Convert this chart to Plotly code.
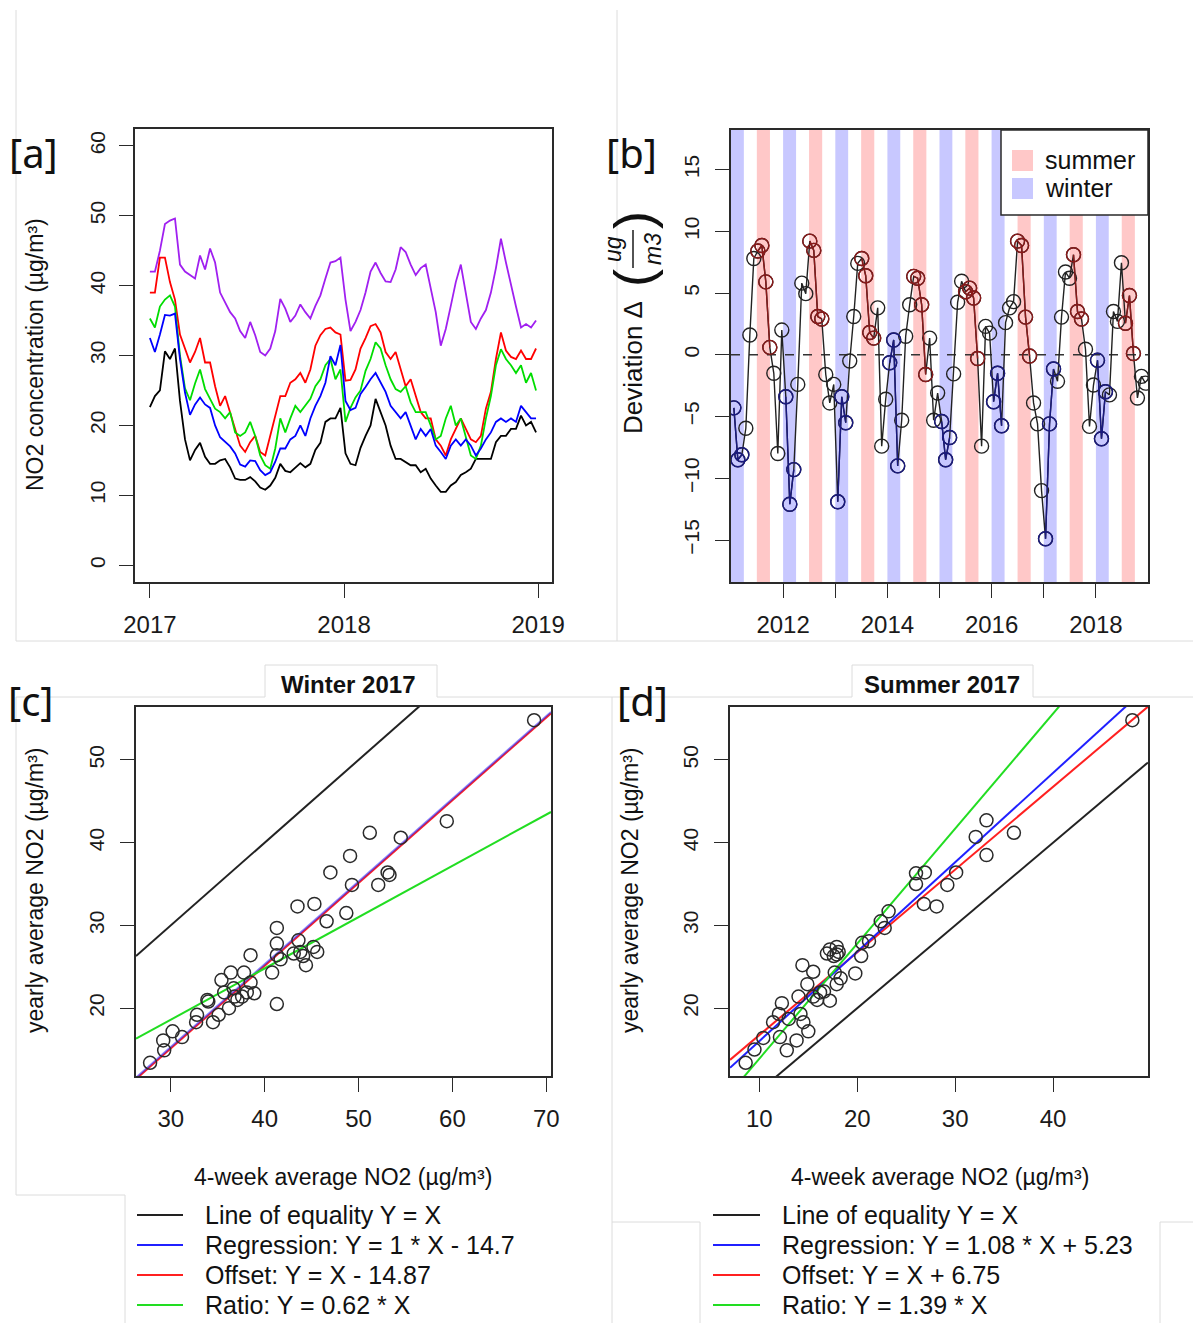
import plotly.graph_objects as go
import pandas as pd

W, H = 1193, 1323

# ---------------- Panel [a] : NO2 time series 2017-2018 ----------------
a_start, a_end, a_n = '2017-01-01', '2018-12-28', 78
a_purple = [42, 42, 45, 48.8, 49.3, 49.6, 43, 42, 41.5, 41, 44.3, 42.3, 45.3, 43.3, 39, 37.5,
            36.2, 35.3, 33.5, 32.5, 34.8, 32.9, 30.5, 30, 31, 33.5, 38.1, 36.7, 34.8, 35.7, 37.3,
            36.2, 35.3, 37.1, 38.6, 41, 43.3, 43.5, 44, 38, 33.5, 34.8, 36.5, 39, 42, 43.3, 41.8,
            40.6, 40.5, 42.3, 45.5, 44.8, 43, 41.5, 42.5, 43, 39.4, 36.2, 31.4, 33.8, 37.1, 40.5,
            43, 39.1, 34.8, 33.8, 35.3, 36.5, 39, 42.5, 46.7, 43.3, 40, 37, 34, 34.5, 34, 35]
a_red = [39, 39, 44, 44, 40.5, 38, 33, 31, 29, 30.5, 32.5, 29, 29, 25.6, 22.8, 24.2, 21.9, 19.5,
         17.1, 16.2, 17.6, 18.5, 16.2, 15.7, 18.5, 21, 24.2, 24.2, 26.1, 26.6, 27.5, 26.1, 28,
         31.4, 32.9, 33.8, 34, 33.3, 33, 26.4, 26.5, 28, 31, 32.5, 34.2, 34.5, 33.3, 30.5, 29.5,
         30.5, 28, 25.6, 26.6, 24.2, 21.9, 21, 21, 18, 17.1, 15.7, 18, 19.5, 21, 19.5, 18, 17.6,
         18.5, 22.4, 24.8, 29.5, 33.3, 30.7, 29.8, 29.5, 30.7, 29.5, 29.5, 31]
a_green = [35.3, 34, 37, 38, 38.6, 37, 30, 25.3, 23.6, 26, 28, 25.2, 23.8, 22.4, 21.9, 21, 21.9,
           19, 18.5, 19, 20.5, 18.5, 15.7, 14.3, 13.8, 16.7, 21, 19, 21, 22.8, 21.9, 22.8, 23.8,
           25.6, 26.6, 28.6, 29.5, 26.6, 28, 20.5, 22.5, 24, 25, 27.8, 29.5, 31.9, 31, 28.6, 26.6,
           25.2, 24.8, 25.6, 23.3, 21.9, 21.9, 21.9, 20, 18, 18.5, 21, 22.8, 20, 21, 18.5, 15.7,
           15.2, 17.1, 21, 24.2, 28.6, 30.9, 29.5, 28.6, 27.5, 28.6, 26.1, 27.5, 25]
a_blue = [32.5, 30.5, 33, 35.8, 35.7, 36, 29.5, 24.7, 21.5, 23, 24, 23, 22.5, 20, 18.3, 17.7, 17,
          16, 14.4, 14.1, 15, 14.9, 13.6, 12.9, 13.3, 14.8, 16.7, 16.7, 18, 18.5, 20, 18.5, 21,
          22.8, 24.2, 26.1, 29.9, 28.6, 31.5, 23.5, 22.2, 22.5, 24.5, 25.5, 26.6, 27.5, 26.1, 24.8,
          22.8, 21.9, 21, 21.9, 20, 18, 19.5, 18.5, 19.5, 17.1, 16.2, 15.2, 17.1, 18, 17.1, 18,
          17.1, 15.7, 16.7, 18, 19, 20.5, 21, 20.5, 21, 20.5, 22.8, 21.9, 21, 21]
a_black = [22.6, 24.2, 25, 30.6, 29.5, 31, 23.5, 18, 15, 16.5, 17.5, 15.5, 14.5, 14.5, 15, 15.2,
           14, 12.4, 12.2, 12.2, 12.6, 12, 11.1, 10.8, 11.4, 12.5, 14.5, 13.5, 13.3, 14, 14.6, 14,
           14.5, 16.5, 17.5, 20.5, 21, 21, 22.5, 16, 14.5, 14.3, 16.8, 18.5, 20, 23.8, 21.9, 20,
           17.1, 15.2, 15.2, 14.8, 14.3, 14.3, 13.3, 13.8, 12.4, 11.4, 10.5, 10.5, 11.4, 11.9, 12.9,
           13.3, 13.8, 15.2, 15.2, 15.2, 15.2, 17.6, 18.5, 18.5, 19.5, 19.5, 21.4, 20, 20.5, 19]
a_xticks = ['2017-01-01', '2018-01-01', '2019-01-01']
a_xticklabels = ['2017', '2018', '2019']
a_yticks = [0, 10, 20, 30, 40, 50, 60]

# ---------------- Panel [b] : 4-weekly deviation ----------------
b_start, b_step = '2011-01-21', '28D'
b_dev = [-4.3, -8.5, -8.1, -5.95, 1.6, 7.8, 8.4, 8.85, 5.9, 0.6, -1.5, -8.0, 2.0, -3.4, -12.1,
         -9.3, -2.4, 5.8, 4.95, 9.2, 8.45, 3.1, 2.9, -1.6, -3.9, -2.4, -11.9, -3.4, -5.5, -0.5,
         3.1, 7.4, 7.8, 6.4, 1.8, 1.35, 3.8, -7.4, -3.6, -0.65, 1.2, -9.0, -5.3, 1.5, 4.05, 6.35,
         6.2, 4.05, -1.6, 1.35, -5.3, -3.1, -5.4, -8.5, -6.7, -1.55, 4.25, 5.95, 5.1, 5.4, 4.6,
         -0.3, -7.4, 2.3, 1.75, -3.8, -1.5, -5.75, 2.6, 3.8, 4.3, 9.2, 8.85, 3.05, -0.1, -3.9,
         -5.6, -11.0, -14.9, -5.6, -1.15, -2.15, 3.05, 6.7, 6.2, 8.1, 3.5, 2.9, 0.45, -5.8, -2.45,
         -0.45, -6.8, -3.0, -3.25, 3.5, 2.7, 7.45, 2.55, 4.8, 0.1, -3.5, -1.75, -2.3]
b_years = [2011, 2012, 2013, 2014, 2015, 2016, 2017, 2018]
b_winter_months = [1, 2, 3]
b_summer_months = [7, 8, 9]
b_xticks = ['2012-01-01', '2013-01-01', '2014-01-01', '2015-01-01', '2016-01-01', '2017-01-01', '2018-01-01']
b_xticklabels = ['2012', '', '2014', '', '2016', '', '2018']
b_yticks = [-15, -10, -5, 0, 5, 10, 15]

# ---------------- Panel [c] : Winter 2017 ----------------
c_x = [27.8, 29.2, 29.3, 30.2, 31.2, 32.8, 32.7, 33.9, 34.0, 34.5, 35.1, 35.4, 35.7, 36.2, 36.4,
       36.7, 36.8, 37.1, 37.6, 37.8, 38.1, 38.5, 38.5, 38.9, 40.8, 41.3, 41.3, 41.3, 41.3, 41.7,
       43.1, 43.5, 43.6, 43.8, 44.1, 44.4, 45.2, 45.6, 45.3, 46.6, 47.0, 48.7, 49.1, 49.3, 51.2,
       52.1, 53.1, 53.3, 54.5, 59.4, 68.7]
c_y = [13.4, 16.1, 14.9, 17.2, 16.5, 19.2, 18.3, 21.0, 20.8, 18.3, 19.2, 23.4, 21.9, 20.0, 24.3,
       22.4, 21.4, 21.0, 21.4, 24.3, 21.9, 23.1, 26.4, 21.8, 24.3, 29.7, 27.8, 26.4, 20.5, 25.9,
       26.6, 32.3, 28.2, 26.8, 26.3, 25.2, 27.4, 26.8, 32.6, 30.5, 36.4, 31.5, 38.4, 34.9, 41.2,
       34.9, 36.4, 36.1, 40.6, 42.6, 54.8]
c_reg = (1.0, -14.7)
c_offset = -14.87
c_ratio = 0.62
c_legend = ['Line of equality Y = X', 'Regression: Y = 1 * X - 14.7',
            'Offset: Y = X - 14.87', 'Ratio: Y = 0.62 * X']
c_xrange = [26.3, 70.5]
c_xticks = [30, 40, 50, 60, 70]

# ---------------- Panel [d] : Summer 2017 ----------------
d_x = [8.6, 9.5, 10.4, 11.4, 12.1, 12.0, 12.3, 12.8, 13.0, 13.8, 14.0, 14.2, 14.5, 14.9, 15.0,
       14.4, 15.5, 15.5, 15.9, 16.2, 16.6, 17.2, 16.9, 17.2, 17.6, 17.9, 17.9, 18.1, 17.7, 17.9,
       18.3, 19.8, 20.4, 20.5, 21.2, 22.4, 22.8, 23.2, 26.0, 26.0, 26.9, 26.8, 28.1, 29.2, 30.1,
       32.1, 33.2, 33.2, 36.0, 48.1]
d_y = [13.4, 15.0, 16.4, 18.3, 16.5, 19.3, 20.6, 14.9, 18.7, 16.1, 21.4, 19.3, 18.3, 22.9, 17.2,
       25.2, 24.4, 21.4, 21.0, 21.9, 22.0, 20.9, 26.6, 27.1, 26.3, 27.4, 26.5, 26.8, 24.3, 22.9,
       23.6, 24.2, 26.3, 27.9, 28.1, 30.5, 29.7, 31.7, 36.3, 35.0, 36.4, 32.6, 32.3, 34.9, 36.4,
       40.7, 42.7, 38.5, 41.2, 54.8]
d_reg = (1.08, 5.23)
d_offset = 6.75
d_ratio = 1.39
d_legend = ['Line of equality Y = X', 'Regression: Y = 1.08 * X + 5.23',
            'Offset: Y = X + 6.75', 'Ratio: Y = 1.39 * X']
d_xrange = [7.0, 49.7]
d_xticks = [10, 20, 30, 40]

cd_yrange = [11.8, 56.4]
cd_yticks = [20, 30, 40, 50]

# ======================================================================
FONT = 'Liberation Sans, Arial, sans-serif'
AX = '#2a2a2a'


def px(x):
    return x / W


def py(y):
    return 1 - y / H


def axis(domain, anchor, tickangle=0, size=24, standoff=8, **kw):
    d = dict(domain=domain, anchor=anchor, showline=True, mirror=True, linecolor=AX,
             linewidth=1.5, ticks='outside', ticklen=14, tickwidth=1.4, tickcolor=AX,
             showgrid=False, zeroline=False, tickangle=tickangle, ticklabelstandoff=standoff,
             automargin=False,
             tickfont=dict(family=FONT, size=size, color='#1a1a1a'))
    d.update(kw)
    return d


fig = go.Figure()

# --- panel a traces
a_dates = pd.date_range(a_start, a_end, periods=a_n)
for vals, col in [(a_black, '#000000'), (a_purple, '#a020f0'), (a_red, '#ff0000'),
                  (a_green, '#00dd00'), (a_blue, '#0000ff')]:
    fig.add_trace(go.Scatter(x=a_dates, y=vals, mode='lines', line=dict(color=col, width=1.8),
                             xaxis='x', yaxis='y', showlegend=False))

# --- panel b traces
b_dates = pd.date_range(b_start, periods=len(b_dev), freq=b_step)
fig.add_trace(go.Scatter(x=b_dates, y=b_dev, mode='lines+markers', xaxis='x2', yaxis='y2',
                         line=dict(color='#222222', width=1.4),
                         marker=dict(symbol='circle-open', size=14, color='#222222',
                                     line=dict(width=1.4)), showlegend=False))


def season_runs(months):
    runs, cur = [], []
    for i, dt in enumerate(b_dates):
        if dt.month in months:
            cur.append(i)
        else:
            if cur:
                runs.append(cur)
            cur = []
    if cur:
        runs.append(cur)
    return runs


for months, col in [(b_winter_months, '#1a1a80'), (b_summer_months, '#8b1a1a')]:
    for run in season_runs(months):
        fig.add_trace(go.Scatter(x=[b_dates[i] for i in run], y=[b_dev[i] for i in run],
                                 mode='lines+markers', xaxis='x2', yaxis='y2',
                                 line=dict(color=col, width=1.4),
                                 marker=dict(symbol='circle-open', size=14, color=col,
                                             line=dict(width=1.4)), showlegend=False))

# --- panel c / d traces


def add_panel(xs, ys, reg, off, ratio, xr, xa, ya, blend):
    lines = [((1.0, 0.0), '#222222', 1.0),
             ((1.0, off), '#ff2020', 1.0),
             (reg, '#2020ff', 0.55 if blend else 1.0),
             ((ratio, 0.0), '#22dd22', 1.0)]
    for (a, b), col, op in lines:
        fig.add_trace(go.Scatter(x=xr, y=[a * v + b for v in xr], mode='lines', opacity=op,
                                 line=dict(color=col, width=2), xaxis=xa, yaxis=ya,
                                 showlegend=False))
    fig.add_trace(go.Scatter(x=xs, y=ys, mode='markers', xaxis=xa, yaxis=ya, showlegend=False,
                             marker=dict(symbol='circle-open', size=13, color='#2a2a2a',
                                         line=dict(width=1.5))))


add_panel(c_x, c_y, c_reg, c_offset, c_ratio, c_xrange, 'x3', 'y3', True)
add_panel(d_x, d_y, d_reg, d_offset, d_ratio, d_xrange, 'x4', 'y4', False)

# --- axes
fig.update_layout(
    xaxis=axis([px(135), px(552)], 'y', type='date', range=['2016-12-04', '2019-01-27'],
               tickvals=a_xticks, ticktext=a_xticklabels, standoff=6),
    yaxis=axis([py(582), py(129)], 'x', tickangle=-90, size=21, range=[-2.4, 62.4],
               tickvals=a_yticks, standoff=6),
    xaxis2=axis([px(731), px(1148)], 'y2', type='date', range=['2011-01-01', '2019-01-01'],
                tickvals=b_xticks, ticktext=b_xticklabels, standoff=6),
    yaxis2=axis([py(582), py(130)], 'x2', tickangle=-90, size=21, range=[-18.4, 18.2],
                tickvals=b_yticks),
    xaxis3=axis([px(136), px(551)], 'y3', range=c_xrange, tickvals=c_xticks, standoff=6),
    yaxis3=axis([py(1076), py(707)], 'x3', tickangle=-90, size=21, range=cd_yrange,
                tickvals=cd_yticks),
    xaxis4=axis([px(730), px(1148)], 'y4', range=d_xrange, tickvals=d_xticks, standoff=6),
    yaxis4=axis([py(1076), py(707)], 'x4', tickangle=-90, size=21, range=cd_yrange,
                tickvals=cd_yticks),
)

shapes = []
# season stripes in panel b
for yr in b_years:
    shapes.append(dict(type='rect', xref='x2', yref='y2 domain', x0=f'{yr}-01-01',
                       x1=f'{yr}-04-01', y0=0, y1=1, fillcolor='#c8c8ff', line=dict(width=0),
                       layer='below'))
    shapes.append(dict(type='rect', xref='x2', yref='y2 domain', x0=f'{yr}-07-01',
                       x1=f'{yr}-10-01', y0=0, y1=1, fillcolor='#ffc8c8', line=dict(width=0),
                       layer='below'))
shapes.append(dict(type='line', xref='x2 domain', yref='y2', x0=0, x1=1, y0=0, y1=0,
                   line=dict(color='#333333', width=1.5, dash='dash'), layer='below'))
# legend box panel b
shapes.append(dict(type='rect', xref='paper', yref='paper', x0=px(1001), x1=px(1148),
                   y0=py(215), y1=py(130), fillcolor='white', line=dict(color=AX, width=1.5),
                   layer='above'))
shapes.append(dict(type='rect', xref='paper', yref='paper', x0=px(1012), x1=px(1033),
                   y0=py(171), y1=py(150), fillcolor='#ffc8c8', line=dict(width=0)))
shapes.append(dict(type='rect', xref='paper', yref='paper', x0=px(1012), x1=px(1033),
                   y0=py(199), y1=py(178), fillcolor='#c8c8ff', line=dict(width=0)))
# fraction bar in panel b y label
shapes.append(dict(type='line', xref='paper', yref='paper', x0=px(633), x1=px(633),
                   y0=py(268), y1=py(230), line=dict(color='#1a1a1a', width=1.5)))

# legends under c and d
leg_cols = ['#222222', '#2020ff', '#ff2020', '#22dd22']
leg_y = [1215, 1245, 1275, 1305]
for x0, x1 in [(137, 183), (713, 760)]:
    for col, yy in zip(leg_cols, leg_y):
        shapes.append(dict(type='line', xref='paper', yref='paper', x0=px(x0), x1=px(x1),
                           y0=py(yy), y1=py(yy), line=dict(color=col, width=2)))

# faint screenshot frame lines
frame = [((16, 10), (16, 641)), ((16, 641), (1193, 641)), ((617, 10), (617, 641)),
         ((16, 697), (265, 697)), ((265, 665), (265, 697)), ((265, 665), (437, 665)),
         ((437, 665), (437, 697)), ((437, 697), (612, 697)), ((16, 697), (16, 1195)),
         ((16, 1195), (125, 1195)), ((125, 1195), (125, 1323)), ((612, 697), (612, 1222)),
         ((612, 697), (852, 697)), ((852, 665), (852, 697)), ((852, 665), (1033, 665)),
         ((1033, 665), (1033, 697)), ((1033, 697), (1193, 697)), ((612, 1222), (700, 1222)),
         ((700, 1222), (700, 1323)), ((1160, 1222), (1193, 1222)), ((1160, 1222), (1160, 1323)),
         ((612, 1222), (612, 1323))]
for (xa, ya), (xb, yb) in frame:
    shapes.append(dict(type='line', xref='paper', yref='paper', x0=px(xa), x1=px(xb),
                       y0=py(ya), y1=py(yb), line=dict(color='#dcdcdc', width=1)))

ann = []


def text(x, y, s, size=24, angle=0, bold=False, family=FONT, xanchor='center', italic=False):
    if bold:
        s = f'<b>{s}</b>'
    if italic:
        s = f'<i>{s}</i>'
    ann.append(dict(x=px(x), y=py(y), xref='paper', yref='paper', text=s, showarrow=False,
                    textangle=angle, xanchor=xanchor, yanchor='middle',
                    font=dict(family=family, size=size, color='#111111')))


PF = 'Noto Sans, Open Sans, sans-serif'
text(33, 152, '[a]', 40, family=PF)
text(631, 152, '[b]', 40, family=PF)
text(31, 700, '[c]', 40, family=PF)
text(642, 700, '[d]', 40, family=PF)

text(35, 355, 'NO2 concentration (µg/m³)', 23, angle=-90)
text(35, 890, 'yearly average NO2 (µg/m³)', 23, angle=-90)
text(630, 890, 'yearly average NO2 (µg/m³)', 23, angle=-90)
text(343, 1177, '4-week average NO2 (µg/m³)', 23)
text(940, 1177, '4-week average NO2 (µg/m³)', 23)

text(348, 684, 'Winter 2017', 24, bold=True)
text(942, 684, 'Summer 2017', 24, bold=True)

# panel b y label with fraction
text(633, 368, 'Deviation Δ', 26, angle=-90)
text(633, 278, '(', 54, angle=-90)
text(633, 220, ')', 54, angle=-90)
text(613, 249, 'ug', 23, angle=-90, italic=True)
text(653, 249, 'm3', 23, angle=-90, italic=True)

# panel b legend text
text(1043, 160, 'summer', 25, xanchor='left')
text(1043, 188, 'winter', 25, xanchor='left')

for lab, yy in zip(c_legend, leg_y):
    text(203, yy, lab, 25, xanchor='left')
for lab, yy in zip(d_legend, leg_y):
    text(780, yy, lab, 25, xanchor='left')

fig.update_layout(shapes=shapes, annotations=ann, width=W, height=H, autosize=False,
                  margin=dict(l=0, r=0, t=0, b=0, pad=0), paper_bgcolor='white',
                  plot_bgcolor='white', showlegend=False)

fig.write_html('out.html', config={'displayModeBar': False},
               post_script="document.body.style.margin='0';document.body.style.overflow='hidden';")
